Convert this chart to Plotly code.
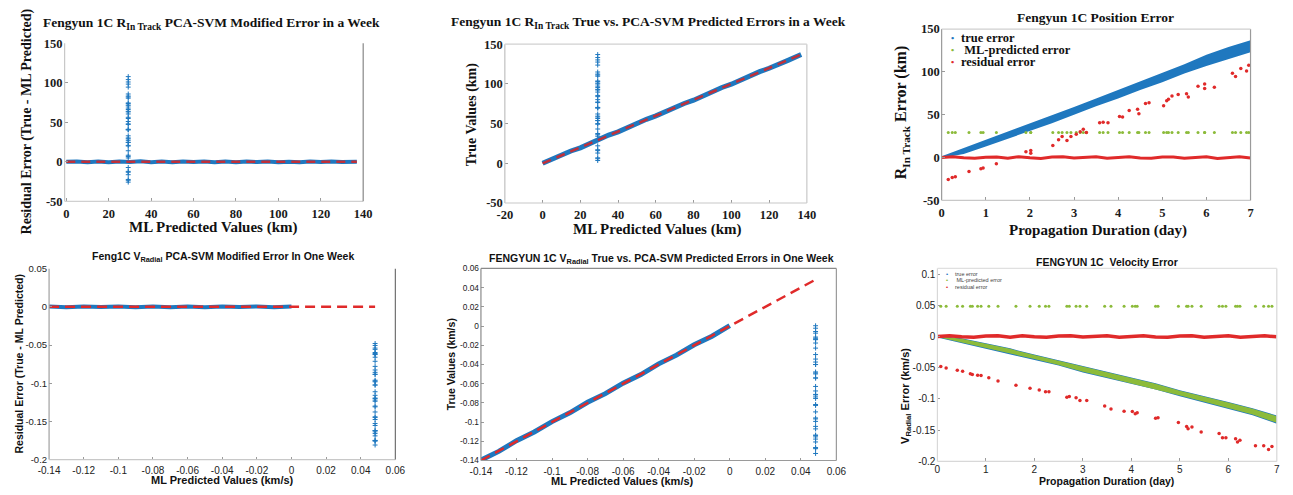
import plotly.graph_objects as go

# ---------------- In-track position error (km), Fengyun 1C ----------------
DAY_GRID = [0.0, 0.5, 1.0, 1.5, 2.0, 2.5, 3.0, 3.5, 4.0, 4.5, 5.0, 5.5, 6.0, 6.5, 7.0]
IT_TRUE_LO = [-0.5, 4, 13, 22, 31, 40, 50, 60, 69, 79, 88, 98, 107, 115, 123]
IT_TRUE_HI = [1.5, 11, 21, 30, 40, 49, 59, 69, 79, 89, 99, 109, 120, 129, 137]

RESID_DAY = [0.0, 0.25, 0.5, 0.75, 1.0, 1.25, 1.5, 1.75, 2.0, 2.25, 2.5, 2.75, 3.0, 3.25,
             3.5, 3.75, 4.0, 4.25, 4.5, 4.75, 5.0, 5.25, 5.5, 5.75, 6.0, 6.25, 6.5, 6.75, 7.0]
IT_RESID = [0.0, 0.9, -0.3, -0.9, 0.4, 0.6, -0.7, 1.0, -0.2, -1.0, 0.5, 0.8, -0.6, 0.3,
            0.9, -0.8, -0.2, 1.0, -0.5, -0.9, 0.6, 0.7, -0.8, 0.2, 0.9, -1.0, -0.2, 0.8, -0.4]

# ML-predicted in-track values and the residuals along them
IT_PRED = [0, 5, 10, 15, 20, 25, 30, 35, 40, 45, 50, 55, 60, 65, 70, 75, 80, 85, 90,
           95, 100, 105, 110, 115, 120, 125, 130, 137]
IT_PRED_RESID = [0.1, 0.5, -0.4, 0.5, -0.5, 0.3, -0.3, 0.6, -0.4, 0.3, -0.5, 0.4, -0.2, 0.5,
                 -0.4, 0.3, -0.5, 0.4, -0.3, 0.5, -0.4, 0.2, -0.5, 0.4, -0.3, 0.5, -0.3, 0.1]

# epochs where the model output stuck at a constant value
IT_ML_OUT = 29.2
IT_OUT_DAY = [0.15, 0.24, 0.31, 0.62, 0.89, 0.94, 1.24, 1.91, 2.02, 2.02, 2.52, 2.65, 2.73,
              2.84, 2.93, 3.05, 3.14, 3.21, 3.28, 3.58, 3.66, 3.77, 4.03, 4.10, 4.25, 4.44,
              4.47, 4.62, 4.70, 5.03, 5.10, 5.14, 5.22, 5.36, 5.55, 5.59, 5.81, 5.96, 5.96,
              6.18, 6.59, 6.66, 6.78, 6.91, 6.96]
IT_OUT_RESID = [-25.7, -23.4, -22.3, -16.3, -13.2, -12.1, -7.2, 6.8, 8.3, 4.9, 14.0, 20.8, 24.6,
                20.0, 24.6, 27.2, 30.2, 32.9, 29.1, 40.5, 41.2, 40.5, 48.0, 47.3, 54.8, 56.3,
                51.0, 63.1, 63.9, 60.5, 66.2, 68.0, 71.8, 73.7, 74.5, 70.7, 83.2, 85.8, 80.5,
                82.0, 98.3, 94.5, 104.0, 101.0, 107.8]

# ---------------- Radial velocity error (km/s), Fengyun 1C ----------------
V_TRUE_LO = [-0.0015, -0.0105, -0.0190, -0.0275, -0.0370, -0.0465, -0.0575, -0.0665,
             -0.0760, -0.0850, -0.0955, -0.1055, -0.1160, -0.1260, -0.1395]
V_TRUE_HI = [0.0010, -0.0030, -0.0110, -0.0190, -0.0290, -0.0380, -0.0480, -0.0570,
             -0.0660, -0.0750, -0.0860, -0.0950, -0.1050, -0.1150, -0.1265]
V_ML_LO = [-0.0010, -0.0097, -0.0181, -0.0266, -0.0361, -0.0456, -0.0565, -0.0655,
           -0.0750, -0.0840, -0.0944, -0.1044, -0.1148, -0.1248, -0.1382]
V_ML_HI = [0.0005, -0.0038, -0.0118, -0.0198, -0.0298, -0.0388, -0.0488, -0.0578,
           -0.0668, -0.0758, -0.0868, -0.0958, -0.1058, -0.1158, -0.1275]
V_RESID = [0.0, 0.0012, -0.0004, -0.0012, 0.0006, 0.0010, -0.0010, 0.0012, -0.0003, -0.0012,
           0.0008, 0.0010, -0.0009, 0.0005, 0.0012, -0.0011, -0.0002, 0.0012, -0.0008, -0.0011,
           0.0009, 0.0010, -0.0011, 0.0003, 0.0012, -0.0012, -0.0002, 0.0011, -0.0005]

V_PRED = [-0.14, -0.13, -0.12, -0.11, -0.10, -0.09, -0.08, -0.07, -0.06, -0.05, -0.04,
          -0.03, -0.02, -0.01, 0.0]
V_PRED_RESID = [0.0004, -0.0005, 0.0006, -0.0003, 0.0005, -0.0004, 0.0006, -0.0004, 0.0005,
                -0.0005, 0.0006, -0.0003, 0.0005, -0.0006, 0.0004]

V_ML_OUT = 0.0483
V_OUT_DAY = [0.07, 0.18, 0.41, 0.52, 0.68, 0.72, 0.83, 0.90, 1.06, 1.25, 1.62, 1.91, 2.10,
             2.23, 2.30, 2.67, 2.72, 2.86, 2.94, 3.08, 3.45, 3.58, 3.85, 4.02, 4.08, 4.12,
             4.50, 4.55, 4.97, 5.14, 5.17, 5.25, 5.44, 5.81, 5.88, 5.95, 6.15, 6.19, 6.24,
             6.56, 6.73, 6.83, 6.90]
V_OUT_RESID = [-0.0480, -0.0506, -0.0540, -0.0557, -0.0598, -0.0610, -0.0620, -0.0625,
               -0.0660, -0.0713, -0.0780, -0.0827, -0.0858, -0.0884, -0.0884, -0.0972,
               -0.0961, -0.0982, -0.1024, -0.1024, -0.1112, -0.1159, -0.1195, -0.1200,
               -0.1237, -0.1221, -0.1310, -0.1300, -0.1377, -0.1440, -0.1476, -0.1450,
               -0.1528, -0.1554, -0.1620, -0.1620, -0.1637, -0.1690, -0.1660, -0.1750,
               -0.1750, -0.1810, -0.1760]

# ---------------- tick labels ----------------
KM_TICKS = [-50, 0, 50, 100, 150]
KM_LABELS = ["-50", "0", "50", "100", "150"]
P1_XTICKS = [0, 20, 40, 60, 80, 100, 120, 140]
P1_XLABELS = ["0", "20", "40", "60", "80", "100", "120", "140"]
P2_XTICKS = [-20, 0, 20, 40, 60, 80, 100, 120, 140]
P2_XLABELS = ["-20", "0", "20", "40", "60", "80", "100", "120", "140"]
DAY_TICKS = [0, 1, 2, 3, 4, 5, 6, 7]
DAY_LABELS = ["0", "1", "2", "3", "4", "5", "6", "7"]
KMS_XTICKS = [-0.14, -0.12, -0.10, -0.08, -0.06, -0.04, -0.02, 0.0, 0.02, 0.04, 0.06]
KMS_XLABELS = ["-0.14", "-0.12", "-0.1", "-0.08", "-0.06", "-0.04", "-0.02", "0", "0.02", "0.04", "0.06"]
P4_YTICKS = [-0.2, -0.15, -0.1, -0.05, 0.0, 0.05]
P4_YLABELS = ["-0.2", "-0.15", "-0.1", "-0.05", "0", "0.05"]
P5_YTICKS = [-0.14, -0.12, -0.10, -0.08, -0.06, -0.04, -0.02, 0.0, 0.02, 0.04, 0.06]
P5_YLABELS = ["-0.14", "-0.12", "-0.1", "-0.08", "-0.06", "-0.04", "-0.02", "0", "0.02", "0.04", "0.06"]
P6_YTICKS = [-0.2, -0.15, -0.1, -0.05, 0.0, 0.05, 0.1]
P6_YLABELS = ["-0.2", "-0.15", "-0.1", "-0.05", "0", "0.05", "0.1"]

# ---------------- styling ----------------
W, H = 1293, 495
BLUE = "#1f78bf"
RED = "#e02a2a"
DRED = "#c0303a"
GREEN = "#8cbb3a"
SERIF = "Liberation Serif"
SANS = "Liberation Sans"

fig = go.Figure()


def ax_ids(k):
    return ("x" if k == 1 else f"x{k}"), ("y" if k == 1 else f"y{k}")


def add(k, **kw):
    xa, ya = ax_ids(k)
    fig.add_trace(go.Scatter(xaxis=xa, yaxis=ya, showlegend=False, hoverinfo="skip", **kw))


def cross(color=BLUE):
    return dict(symbol="cross-thin", size=3.5, line=dict(width=1, color=color), color=color)


# Panel 1: residual vs predicted, in-track
add(1, x=IT_PRED, y=IT_PRED_RESID, mode="lines", line=dict(color=BLUE, width=4))
add(1, x=[IT_PRED[0], IT_PRED[-1]], y=[0, 0], mode="lines",
    line=dict(color=DRED, width=2.5, dash="9px,6px"))
add(1, x=[IT_ML_OUT] * len(IT_OUT_RESID), y=IT_OUT_RESID, mode="markers", marker=cross())

# Panel 2: true vs predicted, in-track
add(2, x=IT_PRED, y=[p + r for p, r in zip(IT_PRED, IT_PRED_RESID)], mode="lines",
    line=dict(color=BLUE, width=5))
add(2, x=[IT_PRED[0], IT_PRED[-1]], y=[IT_PRED[0], IT_PRED[-1]], mode="lines",
    line=dict(color=DRED, width=2.5, dash="9px,6px"))
add(2, x=[IT_ML_OUT] * len(IT_OUT_RESID), y=[r + IT_ML_OUT for r in IT_OUT_RESID],
    mode="markers", marker=cross())

# Panel 3: in-track error over the propagation week
add(3, x=DAY_GRID, y=IT_TRUE_LO, mode="lines", line=dict(width=0, color=BLUE))
add(3, x=DAY_GRID, y=IT_TRUE_HI, mode="lines", line=dict(width=0, color=BLUE),
    fill="tonexty", fillcolor=BLUE)
add(3, x=IT_OUT_DAY, y=[IT_ML_OUT] * len(IT_OUT_DAY), mode="markers",
    marker=dict(size=3, color=GREEN))
add(3, x=RESID_DAY, y=IT_RESID, mode="lines", line=dict(color=RED, width=3))
add(3, x=IT_OUT_DAY, y=IT_OUT_RESID, mode="markers", marker=dict(size=3.5, color=RED))

# Panel 4: residual vs predicted, radial velocity
add(4, x=V_PRED, y=V_PRED_RESID, mode="lines", line=dict(color=BLUE, width=4))
add(4, x=[V_PRED[0], V_ML_OUT], y=[0, 0], mode="lines",
    line=dict(color=RED, width=2.5, dash="10px,6px"))
add(4, x=[V_ML_OUT] * len(V_OUT_RESID), y=V_OUT_RESID, mode="markers", marker=cross())

# Panel 5: true vs predicted, radial velocity
add(5, x=V_PRED, y=[p + r for p, r in zip(V_PRED, V_PRED_RESID)], mode="lines",
    line=dict(color=BLUE, width=5))
add(5, x=[V_PRED[0], V_ML_OUT], y=[V_PRED[0], V_ML_OUT], mode="lines",
    line=dict(color=RED, width=2.5, dash="10px,6px"))
add(5, x=[V_ML_OUT] * len(V_OUT_RESID), y=[r + V_ML_OUT for r in V_OUT_RESID],
    mode="markers", marker=cross())

# Panel 6: radial velocity error over the propagation week
add(6, x=DAY_GRID, y=V_TRUE_LO, mode="lines", line=dict(width=0, color=BLUE))
add(6, x=DAY_GRID, y=V_TRUE_HI, mode="lines", line=dict(width=0, color=BLUE),
    fill="tonexty", fillcolor=BLUE)
add(6, x=DAY_GRID, y=V_ML_LO, mode="lines", line=dict(width=0, color=GREEN))
add(6, x=DAY_GRID, y=V_ML_HI, mode="lines", line=dict(width=0, color=GREEN),
    fill="tonexty", fillcolor=GREEN)
add(6, x=V_OUT_DAY, y=[V_ML_OUT] * len(V_OUT_DAY), mode="markers",
    marker=dict(size=3, color=GREEN))
add(6, x=RESID_DAY, y=V_RESID, mode="lines", line=dict(color=RED, width=3.5))
add(6, x=V_OUT_DAY, y=V_OUT_RESID, mode="markers", marker=dict(size=3.5, color=RED))

# ---------------- axes ----------------
PANELS = {
    1: dict(px=(54.5, 358), py=(37.3, 200), xr=[-0.8, 140], yr=[-50, 150],
            xt=(P1_XTICKS, P1_XLABELS), yt=(KM_TICKS, KM_LABELS), serif=True, yfs=None, xso=3,
            box=dict(left="#c8c8c8", bottom="#d0d0d0", right="#888888", top=None)),
    2: dict(px=(502, 809), py=(38.3, 201.7), xr=[-20, 140], yr=[-50, 150],
            xt=(P2_XTICKS, P2_XLABELS), yt=(KM_TICKS, KM_LABELS), serif=True, yfs=None, xso=3,
            box=dict(left="#c0c0c0", bottom="#c8c8c8", right="#c8c8c8", top="#d0d0d0")),
    3: dict(px=(946, 1260), py=(22.7, 199), xr=[0, 7], yr=[-50, 150],
            xt=(DAY_TICKS, DAY_LABELS), yt=(KM_TICKS, KM_LABELS), serif=True, yfs=None, xso=3,
            box=dict(left="#9a9a9a", bottom="#c8c8c8", right="#9a9a9a", top="#cfcfcf")),
    4: dict(px=(38.7, 390.7), py=(269.3, 465.7), xr=[-0.14, 0.06], yr=[-0.2, 0.05],
            xt=(KMS_XTICKS, KMS_XLABELS), yt=(P4_YTICKS, P4_YLABELS), serif=False, yfs=9.5, xso=3,
            box=dict(left="#a0a0a0", bottom="#c8c8c8", right="#707070", top=None)),
    5: dict(px=(477.7, 839), py=(269, 466.7), xr=[-0.14, 0.06], yr=[-0.14, 0.06],
            xt=(KMS_XTICKS, KMS_XLABELS), yt=(P5_YTICKS, P5_YLABELS), serif=False, yfs=8.3, xso=3,
            box=dict(left="#8a8a8a", bottom="#9a9a9a", right="#9a9a9a", top="#8a8a8a")),
    6: dict(px=(941.7, 1286.7), py=(269, 467.7), xr=[0, 7], yr=[-0.2, 0.109],
            xt=(DAY_TICKS, DAY_LABELS), yt=(P6_YTICKS, P6_YLABELS), serif=False, yfs=None, xso=1,
            box=dict(left="#d8d8d8", bottom="#d8d8d8", right="#d8d8d8", top="#e0e0e0")),
}

layout = dict(width=W, height=H, margin=dict(l=0, r=0, t=0, b=0),
              paper_bgcolor="white", plot_bgcolor="white", showlegend=False)
shapes = []
for k, p in PANELS.items():
    xa, ya = ax_ids(k)
    xname = "xaxis" if k == 1 else f"xaxis{k}"
    yname = "yaxis" if k == 1 else f"yaxis{k}"
    if p["serif"]:
        tf = dict(family=SERIF, size=12.5, color="#1a1a1a", weight="bold")
    else:
        tf = dict(family=SANS, size=10, color="#222222")
    ytf = dict(tf)
    if p["yfs"]:
        ytf["size"] = p["yfs"]
    common = dict(showgrid=False, zeroline=False, showline=False, ticks="inside",
                  ticklen=3, tickwidth=1, tickcolor="#9a9a9a", fixedrange=True)
    layout[xname] = dict(domain=[p["px"][0] / W, p["px"][1] / W], range=p["xr"], anchor=ya,
                         tickvals=p["xt"][0], ticktext=p["xt"][1], tickfont=tf,
                         ticklabelstandoff=p["xso"], **common)
    layout[yname] = dict(domain=[1 - p["py"][1] / H, 1 - p["py"][0] / H], range=p["yr"],
                         anchor=xa, tickvals=p["yt"][0], ticktext=p["yt"][1], tickfont=ytf,
                         ticklabelstandoff=1, **common)
    xd, yd = f"{xa} domain", f"{ya} domain"
    edges = dict(left=(0, 0, 0, 1), right=(1, 0, 1, 1), bottom=(0, 0, 1, 0), top=(0, 1, 1, 1))
    for side, col in p["box"].items():
        if col is None:
            continue
        x0, y0, x1, y1 = edges[side]
        shapes.append(dict(type="line", xref=xd, yref=yd, x0=x0, y0=y0, x1=x1, y1=y1,
                           line=dict(color=col, width=1.2)))
layout["shapes"] = shapes

# ---------------- titles, axis labels, legends ----------------
ann = []


def text(x, y, s, size, family, bold=True, angle=0, color="#111111", xanchor="center"):
    ann.append(dict(x=x / W, y=1 - y / H, xref="paper", yref="paper", text=s, showarrow=False,
                    xanchor=xanchor, yanchor="middle", textangle=angle,
                    font=dict(family=family, size=size, color=color,
                              weight="bold" if bold else "normal")))


# top row (serif)
text(204, 17, "Fengyun 1C R<sub>In Track</sub> PCA-SVM Modified Error in a Week", 13.5, SERIF)
text(648, 16, "Fengyun 1C R<sub>In Track</sub> True vs. PCA-SVM Predicted Errors in a Week", 13.5, SERIF)
text(1102, 11, "Fengyun 1C Position Error", 13.5, SERIF)
text(205, 227, "ML Predicted Values (km)", 15, SERIF)
text(657, 229, "ML Predicted Values (km)", 15, SERIF)
text(1105, 230, "Propagation Duration (day)", 15, SERIF)
text(16, 118, "Residual Error (True - ML Predicted)", 14, SERIF, angle=-90)
text(469, 110, "True Values (km)", 14, SERIF, angle=-90)
text(906, 109, "R<sub>In Track</sub> Error (km)", 16, SERIF, angle=-90)

# bottom row (sans)
text(215, 257, "Feng1C V<sub>Radial</sub> PCA-SVM Modified Error In One Week", 10.5, SANS)
text(661, 259, "FENGYUN 1C V<sub>Radial</sub> True vs. PCA-SVM Predicted Errors in One Week", 10.5, SANS)
text(1114, 262, "FENGYUN 1C  Velocity Error", 10.5, SANS)
text(215, 487, "ML Predicted Values (km/s)", 11, SANS)
text(622, 488, "ML Predicted Values (km/s)", 11, SANS)
text(1114, 488, "Propagation Duration (day)", 10.5, SANS)
text(8, 367, "Residual Error (True - ML Predicted)", 10.5, SANS, angle=-90)
text(447, 368, "True Values (km/s)", 10.5, SANS, angle=-90)
text(909, 400, "V<sub>Radial</sub> Error (km/s)", 11, SANS, angle=-90)

# legend of panel 3
LEG_NAMES = ["true error", " ML-predicted error", "residual error"]
LEG_COLORS = [BLUE, GREEN, RED]
for i, (nm, c) in enumerate(zip(LEG_NAMES, LEG_COLORS)):
    yy = 32 + 12.5 * i
    text(957, yy, "•", 9, SERIF, color=c)
    text(964, yy, nm, 12.5, SERIF, xanchor="left")
# legend of panel 6
for i, (nm, c) in enumerate(zip(LEG_NAMES, LEG_COLORS)):
    yy = 274.7 + 6.7 * i
    text(951.5, yy, "•", 6, SANS, color=c)
    text(958, yy, nm.strip() if i != 1 else nm, 5.5, SANS, bold=False, xanchor="left",
         color="#444444")

layout["annotations"] = ann
fig.update_layout(**layout)
fig.write_html("out.html")
